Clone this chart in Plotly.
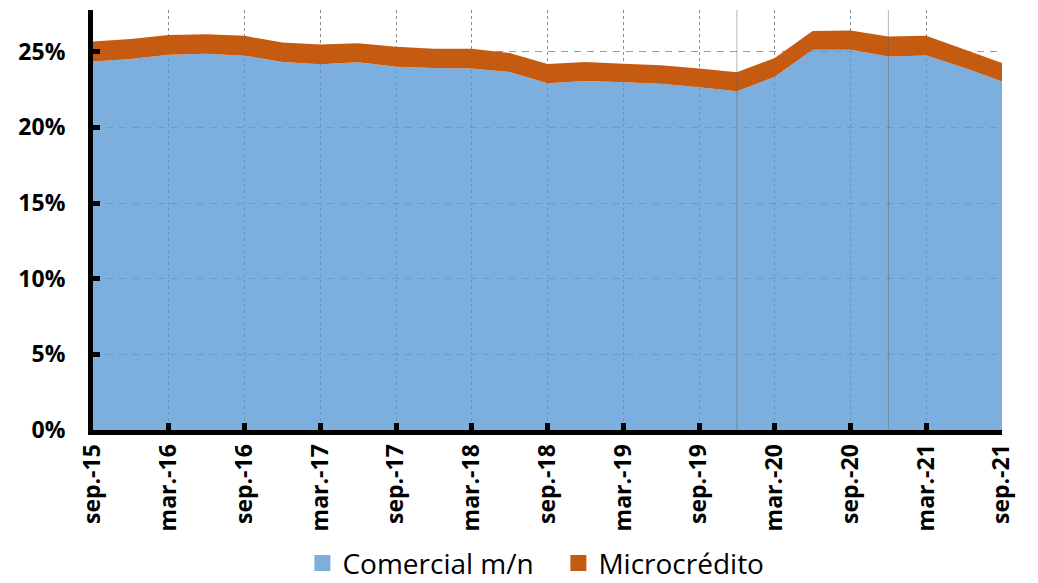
import plotly.graph_objects as go

quarters = [
    "sep.-15", "dic.-15", "mar.-16", "jun.-16", "sep.-16", "dic.-16",
    "mar.-17", "jun.-17", "sep.-17", "dic.-17", "mar.-18", "jun.-18",
    "sep.-18", "dic.-18", "mar.-19", "jun.-19", "sep.-19", "dic.-19",
    "mar.-20", "jun.-20", "sep.-20", "dic.-20", "mar.-21", "jun.-21", "sep.-21",
]
comercial = [
    24.36, 24.52, 24.80, 24.87, 24.74, 24.32,
    24.17, 24.30, 24.01, 23.93, 23.90, 23.66,
    22.92, 23.07, 22.98, 22.88, 22.65, 22.39,
    23.34, 25.13, 25.13, 24.69, 24.76, 23.95, 23.03,
]
microcredito = [
    1.32, 1.32, 1.30, 1.29, 1.31, 1.29,
    1.31, 1.27, 1.32, 1.27, 1.30, 1.25,
    1.27, 1.25, 1.23, 1.22, 1.25, 1.25,
    1.25, 1.25, 1.27, 1.32, 1.29, 1.20, 1.23,
]
series_names = ["Comercial m/n", "Microcrédito"]
tick_quarters = [q for q in quarters if q.startswith(("sep", "mar"))]
marker_quarters = ["dic.-19", "dic.-20"]
y_ticks = [0, 5, 10, 15, 20, 25]
y_ticktext = ["0%", "5%", "10%", "15%", "20%", "25%"]

FONT = "Open Sans"
BLUE_FILL = "rgba(91,155,213,0.8)"
BLUE_SOLID = "#7CAFDD"
ORANGE = "#C55A11"

fig = go.Figure()
fig.add_trace(go.Scatter(
    x=quarters, y=comercial, name=series_names[0],
    mode="lines", line=dict(width=0), stackgroup="one",
    fillcolor=BLUE_FILL, showlegend=False,
))
fig.add_trace(go.Scatter(
    x=quarters, y=microcredito, name=series_names[1],
    mode="lines", line=dict(width=0), stackgroup="one",
    fillcolor=ORANGE, showlegend=False,
))
# legend-only entries with square swatches
for name, col in zip(series_names, [BLUE_SOLID, ORANGE]):
    fig.add_trace(go.Scatter(
        x=[None], y=[None], name=name, mode="markers",
        marker=dict(symbol="square", size=18, color=col),
    ))

for q in marker_quarters:
    fig.add_shape(type="line", xref="x", yref="paper", x0=q, x1=q, y0=0, y1=1,
                  line=dict(color="rgba(90,90,90,0.45)", width=1), layer="above")

fig.update_xaxes(
    type="category", categoryorder="array", categoryarray=quarters,
    range=[0, len(quarters) - 1],
    tickmode="array", tickvals=tick_quarters, ticktext=tick_quarters,
    tickangle=-90,
    tickfont=dict(family=FONT, size=23, color="black", weight="bold"),
    showline=True, linecolor="black", linewidth=5,
    ticks="inside", ticklen=7, tickwidth=5, tickcolor="black",
    showgrid=True, gridcolor="#8E8E8E", gridwidth=1, griddash="dot",
    zeroline=False, layer="above traces",
)
fig.update_yaxes(
    range=[0, 27.76],
    tickmode="array", tickvals=y_ticks, ticktext=y_ticktext,
    tickfont=dict(family=FONT, size=23, color="black", weight="bold"),
    showline=True, linecolor="black", linewidth=5,
    ticks="inside", ticklen=7, tickwidth=5, tickcolor="black",
    showgrid=True, gridcolor="#9A9A9A", gridwidth=1, griddash="7px,6px",
    zeroline=False, layer="above traces", ticklabelstandoff=18,
)

fig.update_layout(
    width=1030, height=583,
    margin=dict(l=85, r=36, t=2, b=159),
    plot_bgcolor="white", paper_bgcolor="white",
    showlegend=True,
    legend=dict(
        orientation="h", x=0.512, xanchor="center", y=-0.377, yanchor="bottom",
        font=dict(family=FONT, size=28, color="black"),
        traceorder="normal", itemwidth=30, entrywidth=211,
    ),
)

fig.write_html("out.html")
